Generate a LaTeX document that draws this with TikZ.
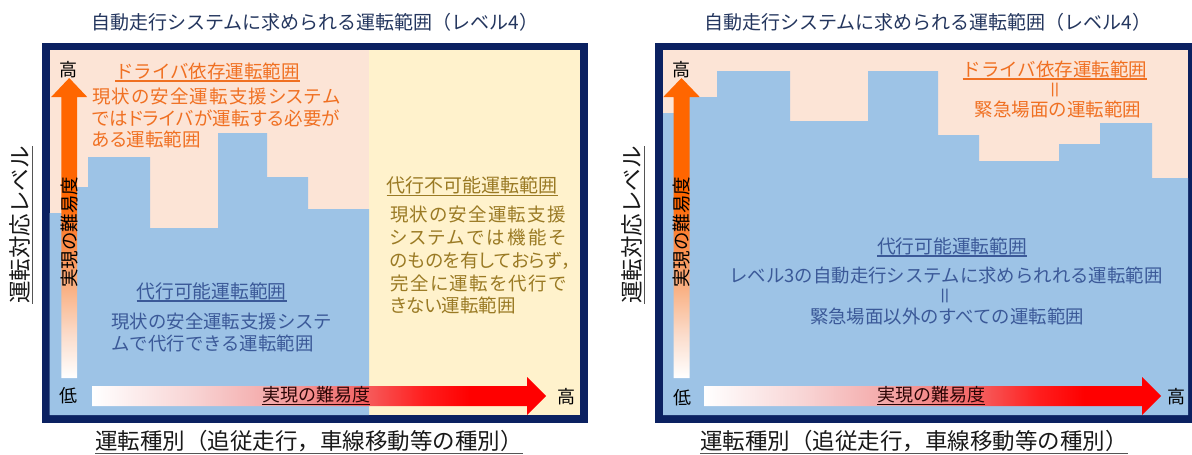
\documentclass[tikz,border=0pt]{standalone}
\usepackage{fontspec}
\usepackage{graphicx}
\setmainfont{Noto Sans CJK JP}
\newfontfamily\pfont{Noto Sans CJK JP}[RawFeature=+palt]
\definecolor{navyf}{HTML}{0B2161}
\definecolor{pinkbg}{HTML}{FCE4D6}
\definecolor{yelbg}{HTML}{FFF2CC}
\definecolor{bluebg}{HTML}{9DC3E6}
\definecolor{titlec}{HTML}{24365E}
\definecolor{orangetx}{HTML}{F07022}
\definecolor{yeltx}{HTML}{9A7A24}
\definecolor{bluetx}{HTML}{3B5998}
\definecolor{vor}{HTML}{FF6600}
\definecolor{vga}{HTML}{FC8740}
\definecolor{vgb}{HTML}{F9B286}
\definecolor{vgc}{HTML}{FBDCCB}
\definecolor{hga}{HTML}{F8D4D4}
\definecolor{hgb}{HTML}{F4ABAB}
\definecolor{hgc}{HTML}{F27272}
\definecolor{hgd}{HTML}{FF1E1E}
\definecolor{hred}{HTML}{FF0000}
\definecolor{bartx}{HTML}{2B0505}
\definecolor{ulgray}{HTML}{555555}
\pgfdeclareverticalshading{vgrad}{100bp}{color(0bp)=(white); color(25bp)=(white); color(32.2bp)=(vgc); color(39.7bp)=(vgb); color(48bp)=(vga); color(54.7bp)=(vor); color(100bp)=(vor)}
\pgfdeclarehorizontalshading{hgrad}{100bp}{color(0bp)=(white); color(25bp)=(white); color(36bp)=(hga); color(44.5bp)=(hgb); color(53bp)=(hgc); color(61.5bp)=(hgd); color(66.6bp)=(hred); color(100bp)=(hred)}
\newcommand\fsz[1]{\fontsize{#1}{#1}\selectfont}
\newcommand\myul[1]{\leavevmode\setbox0\hbox{#1}\rlap{\rule[-3.5pt]{\wd0}{1.2pt}}\box0}
\newcommand\grayul[1]{\leavevmode\setbox0\hbox{#1}\rlap{\textcolor{ulgray}{\rule[-4pt]{\wd0}{0.8pt}}}\box0}
\ExplSyntaxOn
\NewDocumentCommand\jline{mm}{\makebox[#1][s]{\tl_map_inline:nn{#2}{##1\hfil}\unskip}}
\ExplSyntaxOff
\tikzset{
  tx/.style={inner sep=0pt, outer sep=0pt},
  titletx/.style={tx, text=titlec, font=\fsz{19}},
  otx/.style={tx, text=orangetx, font=\fsz{18.5}},
  opx/.style={tx, text=orangetx, font=\pfont\fsz{18.5}},
  ytx/.style={tx, text=yeltx, font=\pfont\fsz{18.5}},
  btx/.style={tx, text=bluetx, font=\fsz{18.4}},
  axtx/.style={tx, text=black!90, font=\fsz{22.5}},
  hl/.style={tx, text=black, font=\fsz{18}},
  bartext/.style={tx, text=bartx, font=\fsz{18}},
  eqtx/.style={tx, rotate=90, font=\fsz{19}},
  framebox/.style={fill=navyf},
  bluefill/.style={fill=bluebg},
  varrow/.style={shading=vgrad},
  harrow/.style={shading=hgrad},
}
\begin{document}
\begin{tikzpicture}[x=1pt,y=-1pt]
\useasboundingbox (0,0) rectangle (1192,455);
\fill[white] (0,0) rectangle (1192,455);

% ---------------- left panel ----------------
\fill[framebox] (41.7,42.5) rectangle (588,423);
\fill[pinkbg] (49.5,50) rectangle (369,415);
\fill[yelbg] (369,50) rectangle (580,415);
\fill[bluefill] (49.5,415) -- (49.5,213) -- (69,213) -- (69,187) -- (88,187) -- (88,157) -- (150,157) -- (150,228) -- (218,228) -- (218,133) -- (267,133) -- (267,177) -- (308,177) -- (308,209) -- (369,209) -- (369,415) -- cycle;

\shade[varrow] (61.4,378) -- (61.4,97) -- (51.2,97) -- (69.2,78) -- (87.2,97) -- (77,97) -- (77,378) -- cycle;
\shade[harrow] (92,386) -- (527,386) -- (527,377) -- (546,396) -- (527,415) -- (527,406) -- (92,406) -- cycle;

\node[titletx] (tL) at (315,22) {自動走行システムに求められる運転範囲（レベル4）};

\node[otx, anchor=west] (ohL) at (115,72) {\myul{ドライバ依存運転範囲}};
\node[opx, anchor=west] (o1) at (92,97) {\jline{248pt}{現状の安全運転支援システム}};
\node[opx, anchor=west] (o2) at (92,118) {\jline{248pt}{ではドライバが運転する必要が}};
\node[opx, anchor=west] (o3) at (92,139) {ある運転範囲};

\node[ytx, font=\fsz{19}, anchor=west] (yh) at (386.5,186) {\myul{代行不可能運転範囲}};
\node[ytx, anchor=west] (y1) at (390,214.5) {\jline{176pt}{現状の安全運転支援}};
\node[ytx, anchor=west] (y2) at (390,237) {\jline{176pt}{システムでは機能そ}};
\node[ytx, anchor=west] (y3) at (390,261) {\jline{178pt}{のものを有しておらず，}};
\node[ytx, anchor=west] (y4) at (390,283) {\jline{176pt}{完全に運転を代行で}};
\node[ytx, anchor=west] (y5) at (390,305) {きない運転範囲};

\node[btx, font=\fsz{18.75}, anchor=west] (bhL) at (136.5,292) {\myul{代行可能運転範囲}};
\node[btx, anchor=west] (b1) at (111.5,322) {現状の安全運転支援システ};
\node[btx, anchor=west] (b2) at (111.5,343) {ムで代行できる運転範囲};

\node[tx, rotate=90, text=black, font=\fsz{18.5}] (vL) at (69.2,232) {実現の難易度};
\node[bartext] (hxL) at (316,396) {\myul{実現の難易度}};
\node[hl] (hiL) at (68,70) {高};
\node[hl] (loL) at (68,396) {低};
\node[hl] (heL) at (566,397) {高};

\node[axtx, rotate=90] (ylL) at (21,225) {\grayul{運転対応レベル}};
\node[axtx] (xlL) at (309,442) {\grayul{運転種別（追従走行，車線移動等の種別）}};

% ---------------- right panel ----------------
\fill[framebox] (655,42.5) rectangle (1200,423);
\fill[pinkbg] (663,50) rectangle (1188,415);
\fill[bluefill] (663,415) -- (663,113) -- (681,113) -- (681,97) -- (717,97) -- (717,71) -- (790,71) -- (790,121) -- (868,121) -- (868,71) -- (938,71) -- (938,135) -- (979,135) -- (979,161) -- (1059,161) -- (1059,144) -- (1100,144) -- (1100,123) -- (1152,123) -- (1152,178) -- (1188,178) -- (1188,415) -- cycle;

\shade[varrow] (673.5,378) -- (673.5,97) -- (663.3,97) -- (681.5,78) -- (699.7,97) -- (689.5,97) -- (689.5,378) -- cycle;
\shade[harrow] (704,386) -- (1142,386) -- (1142,377) -- (1161,396) -- (1142,415) -- (1142,406) -- (704,406) -- cycle;

\node[titletx] (tR) at (928,22) {自動走行システムに求められる運転範囲（レベル4）};

\node[otx] (ohR) at (1055,70) {\myul{ドライバ依存運転範囲}};
\node[eqtx, text=orangetx] (oeq) at (1057,89.5) {＝};
\node[otx] (or2) at (1058,109) {緊急場面の運転範囲};

\node[btx, font=\fsz{18.75}] (bhR) at (952,247) {\myul{代行可能運転範囲}};
\node[btx] (rb1) at (946,276) {レベル3の自動走行システムに求められれる運転範囲};
\node[eqtx, text=bluetx] (beq) at (947,296) {＝};
\node[btx] (rb2) at (947,316) {緊急場面以外のすべての運転範囲};

\node[tx, rotate=90, text=black, font=\fsz{18.5}] (vR) at (681.5,232) {実現の難易度};
\node[bartext] (hxR) at (931,396) {\myul{実現の難易度}};
\node[hl] (hiR) at (681,70) {高};
\node[hl] (loR) at (682,398) {低};
\node[hl] (heR) at (1176,397) {高};

\node[axtx, rotate=90] (ylR) at (633,225) {\grayul{運転対応レベル}};
\node[axtx] (xlR) at (914,442) {\grayul{運転種別（追従走行，車線移動等の種別）}};
\end{tikzpicture}
\end{document}
